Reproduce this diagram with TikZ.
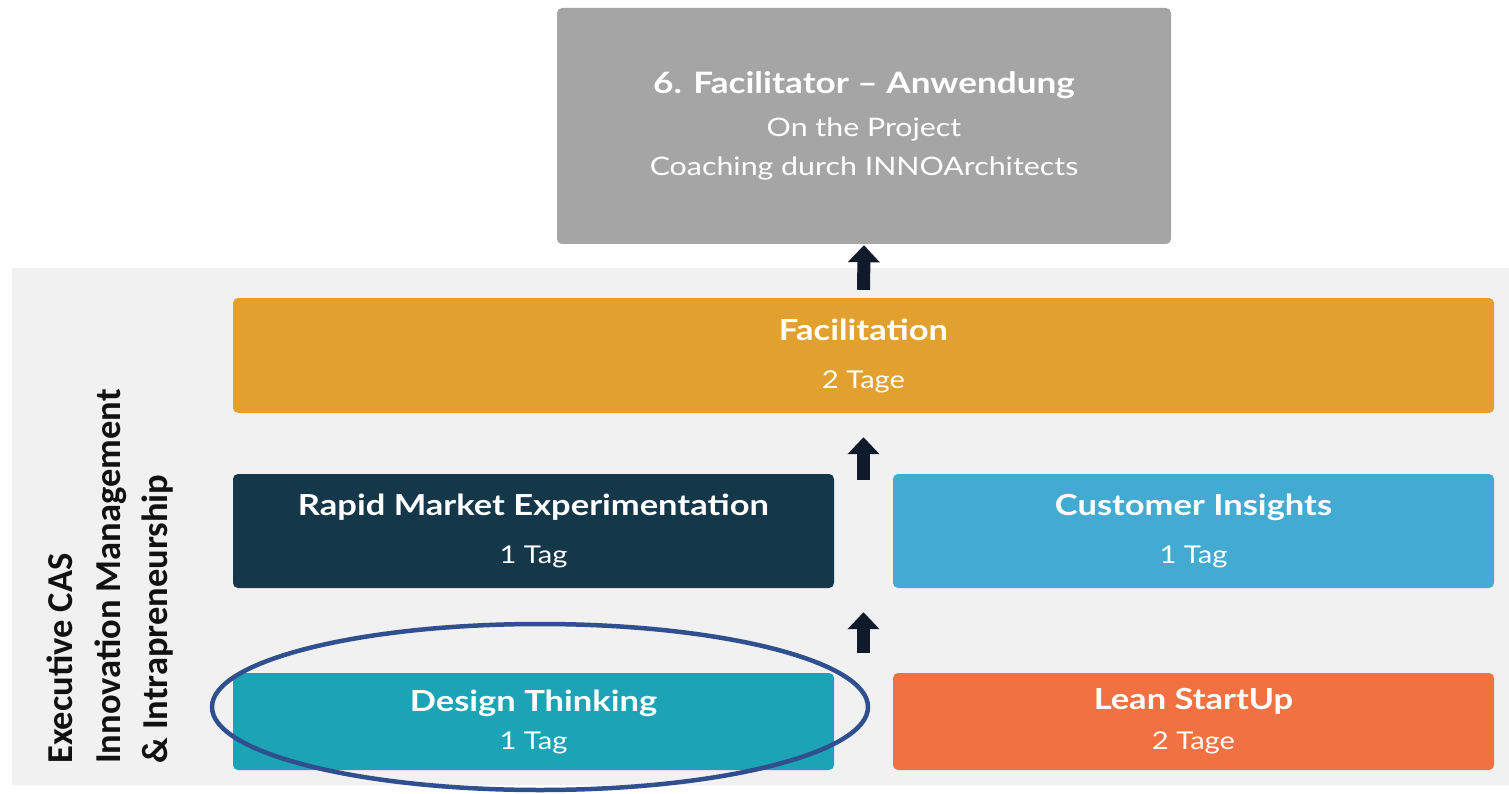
\documentclass[tikz,border=0pt]{standalone}
\usepackage{fontspec}
\setmainfont{Lato}[FakeStretch=1.19]
\newfontfamily\calfont{Carlito}
\usetikzlibrary{arrows.meta,shapes.geometric,calc}
\definecolor{bgc}{HTML}{F1F1F1}
\definecolor{topc}{HTML}{A5A5A5}
\definecolor{facc}{HTML}{E2A02E}
\definecolor{rmec}{HTML}{14374A}
\definecolor{cic}{HTML}{43AAD2}
\definecolor{dtc}{HTML}{1CA3B5}
\definecolor{lsc}{HTML}{F27142}
\definecolor{ellc}{HTML}{2F4F8E}
\definecolor{arrowc}{HTML}{0F1A2B}
\definecolor{txtc}{HTML}{111111}
\begin{document}
\begin{tikzpicture}[x=1pt,y=-1pt,
  box/.style={rectangle, rounded corners=5pt, inner sep=0pt, text=white, align=center,
    font=\fontsize{24.5}{48}\selectfont},
  arr/.style={draw=arrowc, line width=13pt, -{Triangle[width=31pt,length=17pt]}},
]
\useasboundingbox (0,0) rectangle (1509,794);
\fill[white] (0,0) rectangle (1509,794);
\node[rectangle, fill=bgc, inner sep=0pt, minimum width=1497pt, minimum height=517pt, anchor=north west] (bg) at (12,268) {};

\node[box, fill=topc, minimum width=614pt, minimum height=236pt, font=\fontsize{25.5}{39}\selectfont] (top) at (864,126)
  {{\fontsize{29.5}{39}\selectfont\bfseries 6. Facilitator – Anwendung}\\[4pt]On the Project\\Coaching durch INNOArchitects};
\node[box, fill=facc, minimum width=1261pt, minimum height=115pt] (fac) at (863.5,355.5)
  {{\fontsize{29}{48}\selectfont\bfseries Facilitation}\\2 Tage};
\node[box, fill=rmec, minimum width=601pt, minimum height=114pt] (rme) at (533.5,531)
  {{\fontsize{29}{48}\selectfont\bfseries Rapid Market Experimentation}\\1 Tag};
\node[box, fill=cic, minimum width=601pt, minimum height=114pt] (ci) at (1193.5,531)
  {{\fontsize{29}{48}\selectfont\bfseries Customer Insights}\\1 Tag};
\node[box, fill=dtc, minimum width=601pt, minimum height=97pt, font=\fontsize{24.5}{38}\selectfont] (dt) at (533.5,721.5)
  {{\fontsize{29}{38}\selectfont\bfseries Design Thinking}\\1 Tag};
\node[box, fill=lsc, minimum width=601pt, minimum height=97pt, font=\fontsize{24.5}{40}\selectfont] (ls) at (1193.5,721.5)
  {{\fontsize{29}{40}\selectfont\bfseries Lean StartUp}\\2 Tage};

\node[rotate=90, anchor=north west, inner sep=0pt, align=left, text=txtc,
  font=\calfont\bfseries\fontsize{36.5}{47.5}\selectfont] (cas) at (47,764)
  {Executive CAS\\Innovation Management\\\& Intrapreneurship};

\node[ellipse, draw=ellc, line width=4.5pt, minimum width=656pt, minimum height=166pt, inner sep=0pt] (ring) at (540,707) {};

\coordinate (m2) at ($(rme.north east)!0.5!(ci.north west)$);
\coordinate (m3) at ($(dt.north east)!0.5!(ls.north west)$);
\coordinate (m3t) at ($(rme.south east)!0.5!(ci.south west)$);
\draw[arr, shorten <=8pt, shorten >=1pt] (fac.north) -- (top.south);
\draw[arr, shorten <=-6pt, shorten >=24pt] (m2) -- (fac.south -| m2);
\draw[arr, shorten <=20pt, shorten >=24pt] (m3) -- (m3t);
\end{tikzpicture}
\end{document}
